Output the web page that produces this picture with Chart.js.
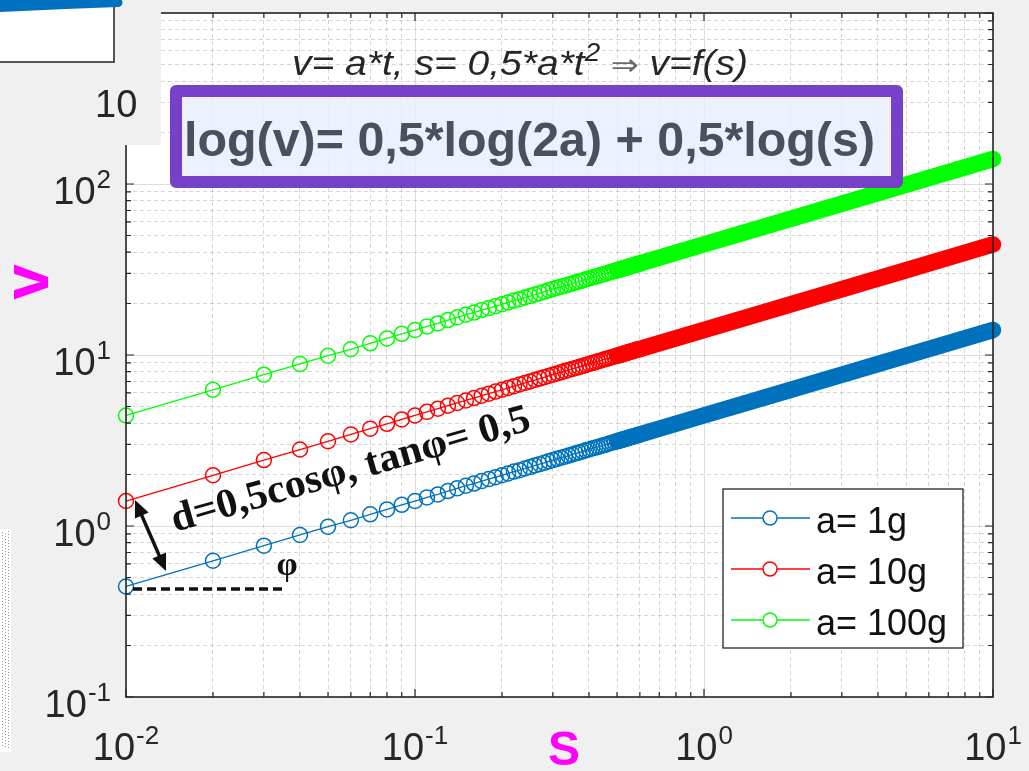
<!DOCTYPE html>
<html>
<head>
<meta charset="utf-8">
<script src="https://cdn.jsdelivr.net/npm/chart.js@4.4.1/dist/chart.umd.min.js"></script>
<style>
  html, body { margin: 0; padding: 0; background: #f0f0f0; }
  #wrap { width: 1029px; height: 771px; position: relative; }
</style>
</head>
<body>
<div id="wrap"><canvas id="chart"></canvas></div>
<script>
// v = f(s) on log-log axes, one curve per acceleration
const sValues = [0.01,0.02,0.03,0.04,0.05,0.06,0.07,0.08,0.09,0.10,
  0.11,0.12,0.13,0.14,0.15,0.16,0.17,0.18,0.19,0.20,
  0.21,0.22,0.23,0.24,0.25,0.26,0.27,0.28,0.29,0.30,
  0.31,0.32,0.33,0.34,0.35,0.36,0.37,0.38,0.39,0.40,
  0.41,0.42,0.43,0.44,0.45,0.46,0.47,0.48,0.49,0.50,
  0.51,0.52,0.53,0.54,0.55,0.56,0.57,0.58,0.59,0.60]
const v1g = [0.443,0.626,0.767,0.886,0.990,1.08,1.17,1.25,1.33,1.40,
  1.47,1.53,1.60,1.66,1.72,1.77,1.83,1.88,1.93,1.98,
  2.03,2.08,2.12,2.17,2.21,2.26,2.30,2.34,2.39,2.43,
  2.47,2.51,2.54,2.58,2.62,2.66,2.69,2.73,2.77,2.80,
  2.84,2.87,2.90,2.94,2.97,3.00,3.04,3.07,3.10,3.13,
  3.16,3.19,3.22,3.25,3.28,3.31,3.34,3.37,3.40,3.43]
const v10g = [1.40,1.98,2.43,2.80,3.13,3.43,3.71,3.96,4.20,4.43,
  4.65,4.85,5.05,5.24,5.42,5.60,5.78,5.94,6.11,6.26,
  6.42,6.57,6.72,6.86,7.00,7.14,7.28,7.41,7.54,7.67,
  7.80,7.92,8.05,8.17,8.29,8.40,8.52,8.63,8.75,8.86,
  8.97,9.08,9.19,9.29,9.40,9.50,9.60,9.70,9.80,9.90,
  10.0,10.1,10.2,10.3,10.4,10.5,10.6,10.7,10.8,10.8]
const v100g = [4.43,6.26,7.67,8.86,9.90,10.8,11.7,12.5,13.3,14.0,
  14.7,15.3,16.0,16.6,17.2,17.7,18.3,18.8,19.3,19.8,
  20.3,20.8,21.2,21.7,22.1,22.6,23.0,23.4,23.9,24.3,
  24.7,25.1,25.4,25.8,26.2,26.6,26.9,27.3,27.7,28.0,
  28.4,28.7,29.0,29.4,29.7,30.0,30.4,30.7,31.0,31.3,
  31.6,31.9,32.2,32.5,32.8,33.1,33.4,33.7,34.0,34.3]

// past s=0.5 the markers sit so close that they merge into a solid band
const sBand = [0.5, 1, 2, 5, 10]
const v1gBand = [3.13, 4.43, 6.26, 9.90, 14.0]
const v10gBand = [9.90, 14.0, 19.8, 31.3, 44.3]
const v100gBand = [31.3, 44.3, 62.6, 99.0, 140]

const seriesLabels = ['a= 1g', 'a= 10g', 'a= 100g']
const seriesColors = ['rgb(0,114,189)', 'rgb(255,0,0)', 'rgb(0,255,0)']

const xDecades = [0.01, 0.1, 1, 10]
const xExponents = ['-2', '-1', '0', '1']
const yDecades = [0.1, 1, 10, 100, 1000]
const yExponents = ['-1', '0', '1', '2']

function logTicks(decades) {
  let out = []
  for (let i = 0; i < decades.length - 1; i++) {
    for (let k = 1; k <= 9; k++) out.push(+(decades[i] * k).toPrecision(6))
  }
  out.push(decades[decades.length - 1])
  return out
}
const xTickValues = logTicks(xDecades)
const yTickValues = logTicks(yDecades)

function isDecade(v) {
  let l = Math.log10(v)
  return Math.abs(l - Math.round(l)) < 1e-6
}

function ringSet(label, color, vals) {
  return {
    label: label,
    data: sValues.map((s, i) => ({ x: s, y: vals[i] })),
    borderColor: color,
    borderWidth: 1.3,
    pointStyle: 'circle',
    pointRadius: 7.5,
    pointHoverRadius: 7.5,
    pointBorderWidth: 1.5,
    pointBorderColor: color,
    pointBackgroundColor: 'rgba(0,0,0,0)',
    tension: 0,
    clip: false
  }
}
function bandSet(color, vals) {
  return {
    label: '',
    data: sBand.map((s, i) => ({ x: s, y: vals[i] })),
    borderColor: color,
    borderWidth: 16.5,
    borderCapStyle: 'round',
    borderJoinStyle: 'round',
    pointRadius: 0,
    pointHoverRadius: 0,
    tension: 0,
    clip: false
  }
}

const SANS = '"Liberation Sans", Arial, sans-serif'
const SERIF = '"Liberation Serif", "Times New Roman", serif'
const gridColor = ctx => isDecade(ctx.tick.value) ? 'rgba(0,0,0,0.13)' : 'rgba(0,0,0,0.16)'
const gridDash = ctx => isDecade(ctx.tick.value) ? [] : [4, 3]

// "10" with a raised exponent
function powerLabel(ctx, x, base, exp, align) {
  ctx.font = '38px ' + SANS
  let w1 = ctx.measureText('10').width
  ctx.font = '26px ' + SANS
  let w2 = ctx.measureText(exp).width
  let x0 = align === 'center' ? x - (w1 + w2 + 1) / 2 : x - (w1 + w2 + 1)
  ctx.fillStyle = '#262626'
  ctx.textAlign = 'left'
  ctx.textBaseline = 'alphabetic'
  ctx.font = '38px ' + SANS
  ctx.fillText('10', x0, base)
  ctx.font = '26px ' + SANS
  ctx.fillText(exp, x0 + w1 + 1, base - 16)
}

// pieces of text in a row, squeezed to a given width
function drawRuns(ctx, runs, x, y, width) {
  let widths = runs.map(r => { ctx.font = r.font; return ctx.measureText(r.text).width })
  let total = widths.reduce((p, c) => p + c, 0)
  ctx.save()
  ctx.translate(x, y)
  ctx.scale(width / total, 1)
  ctx.textAlign = 'left'
  ctx.textBaseline = 'alphabetic'
  let cx = 0
  runs.forEach((r, i) => {
    ctx.font = r.font
    ctx.fillStyle = r.color
    ctx.fillText(r.text, cx, r.dy || 0)
    cx += widths[i]
  })
  ctx.restore()
}

function arrowHead(ctx, tx, ty, fx, fy, len, half) {
  let ang = Math.atan2(ty - fy, tx - fx)
  let c = Math.cos(ang), s = Math.sin(ang)
  ctx.beginPath()
  ctx.moveTo(tx, ty)
  ctx.lineTo(tx - len * c + half * s, ty - len * s - half * c)
  ctx.lineTo(tx - len * c - half * s, ty - len * s + half * c)
  ctx.closePath()
  ctx.fill()
}

const decor = {
  id: 'decor',
  beforeDraw(chart) {
    let { ctx, chartArea: a } = chart
    ctx.save()
    ctx.fillStyle = '#ffffff'
    ctx.fillRect(a.left, a.top, a.right - a.left, a.bottom - a.top)
    ctx.restore()
  },
  afterDraw(chart) {
    let { ctx, chartArea: a } = chart
    let xs = chart.scales.x, ys = chart.scales.y
    ctx.save()

    // inward tick marks and box
    ctx.strokeStyle = '#262626'
    ctx.lineWidth = 1.2
    ctx.beginPath()
    xs.ticks.forEach(t => {
      let px = xs.getPixelForValue(t.value)
      let len = isDecade(t.value) ? 8 : 5
      ctx.moveTo(px, a.bottom); ctx.lineTo(px, a.bottom - len)
      ctx.moveTo(px, a.top); ctx.lineTo(px, a.top + len)
    })
    ys.ticks.forEach(t => {
      let py = ys.getPixelForValue(t.value)
      let len = isDecade(t.value) ? 8 : 5
      ctx.moveTo(a.left, py); ctx.lineTo(a.left + len, py)
      ctx.moveTo(a.right, py); ctx.lineTo(a.right - len, py)
    })
    ctx.stroke()
    ctx.lineWidth = 1.6
    ctx.strokeRect(a.left, a.top, a.right - a.left, a.bottom - a.top)

    // tick labels
    xDecades.forEach((v, i) => powerLabel(ctx, xs.getPixelForValue(v), 760, xExponents[i], 'center'))
    yExponents.forEach((e, i) => powerLabel(ctx, 111, ys.getPixelForValue(yDecades[i]) + 20, e, 'right'))

    // axis names
    ctx.fillStyle = '#ff00ff'
    ctx.font = 'bold 48px ' + SANS
    ctx.textAlign = 'center'
    ctx.fillText('S', 564, 765)
    ctx.save()
    ctx.translate(48, 282)
    ctx.rotate(-Math.PI / 2)
    ctx.font = 'bold 64px ' + SANS
    ctx.fillText('v', 0, 0)
    ctx.restore()

    // legend
    ctx.fillStyle = '#ffffff'
    ctx.fillRect(723, 489, 240, 159)
    ctx.strokeStyle = '#262626'
    ctx.lineWidth = 1.3
    ctx.strokeRect(723, 489, 240, 159)
    let rows = chart.data.datasets.filter(d => d.label)
    rows.forEach((d, i) => {
      let ry = 518 + i * 51
      ctx.strokeStyle = d.borderColor
      ctx.lineWidth = 1.5
      ctx.beginPath()
      ctx.moveTo(731, ry); ctx.lineTo(810, ry)
      ctx.stroke()
      ctx.beginPath()
      ctx.arc(770, ry, 7, 0, Math.PI * 2)
      ctx.fillStyle = '#ffffff'
      ctx.fill()
      ctx.stroke()
      ctx.fillStyle = '#111111'
      ctx.font = '36px ' + SANS
      ctx.textAlign = 'left'
      ctx.fillText(d.label, 816, ry + 15)
    })

    // formula on top
    let it = 'italic 35px ' + SANS
    drawRuns(ctx, [
      { text: 'v= a*t, s= 0,5*a*t', font: it, color: '#262626' },
      { text: '2', font: 'italic 25px ' + SANS, color: '#262626', dy: -14 },
      { text: ' \u21D2 ', font: '30px "DejaVu Sans", sans-serif', color: '#6a6a6a' },
      { text: 'v=f(s)', font: it, color: '#262626' }
    ], 292, 75, 456)

    // purple box
    ctx.fillStyle = 'rgba(232,238,252,0.82)'
    ctx.fillRect(182, 97, 709, 79)
    ctx.strokeStyle = '#7640c8'
    ctx.lineWidth = 12
    ctx.lineJoin = 'round'
    ctx.strokeRect(176, 91, 721, 91)
    drawRuns(ctx, [
      { text: 'log(v)= 0,5*log(2a) + 0,5*log(s)', font: 'bold 48px ' + SANS, color: '#4a505c' }
    ], 184, 156, 691)

    // slope note
    ctx.save()
    ctx.translate(175, 532)
    ctx.rotate(-16 * Math.PI / 180)
    drawRuns(ctx, [
      { text: 'd=0,5cos\u03C6, tan\u03C6= 0,5', font: 'bold 41px ' + SERIF, color: '#111111' }
    ], 0, 0, 372)
    ctx.restore()

    // double arrow
    ctx.strokeStyle = '#111111'
    ctx.fillStyle = '#111111'
    ctx.lineWidth = 3.4
    ctx.lineJoin = 'miter'
    let p1 = [135, 500], p2 = [166, 571]
    let dx = p2[0] - p1[0], dy = p2[1] - p1[1], L = Math.hypot(dx, dy)
    ctx.beginPath()
    ctx.moveTo(p1[0] + dx / L * 12, p1[1] + dy / L * 12)
    ctx.lineTo(p2[0] - dx / L * 12, p2[1] - dy / L * 12)
    ctx.stroke()
    arrowHead(ctx, p1[0], p1[1], p2[0], p2[1], 17, 7.5)
    arrowHead(ctx, p2[0], p2[1], p1[0], p1[1], 17, 7.5)

    // dashed horizontal + angle
    ctx.setLineDash([9, 5])
    ctx.lineWidth = 3.5
    ctx.beginPath()
    ctx.moveTo(133, 589); ctx.lineTo(284, 589)
    ctx.stroke()
    ctx.setLineDash([])
    ctx.font = 'bold 34px ' + SERIF
    ctx.textAlign = 'center'
    ctx.fillText('\u03C6', 287, 575)

    // pieces of other windows over the figure
    ctx.fillStyle = '#f0f0f0'
    ctx.fillRect(0, 0, 161, 145)
    ctx.fillStyle = '#ffffff'
    ctx.fillRect(0, 0, 114, 62)
    ctx.strokeStyle = '#555555'
    ctx.lineWidth = 2
    ctx.beginPath()
    ctx.moveTo(114, 6); ctx.lineTo(114, 62); ctx.lineTo(0, 62)
    ctx.stroke()
    ctx.fillStyle = '#0070c0'
    ctx.beginPath()
    ctx.moveTo(0, -2)
    ctx.lineTo(118, -2)
    ctx.arc(118, 2.5, 4.5, -Math.PI / 2, Math.PI / 2)
    ctx.quadraticCurveTo(60, 9, 0, 12)
    ctx.closePath()
    ctx.fill()
    ctx.fillStyle = '#262626'
    ctx.font = '38px ' + SANS
    ctx.textAlign = 'left'
    ctx.fillText('10', 95, 117)

    ctx.fillStyle = '#ffffff'
    ctx.fillRect(0, 529, 11, 223)
    ctx.strokeStyle = '#9a9a9a'
    ctx.lineWidth = 1
    ctx.setLineDash([1, 2])
    ctx.beginPath()
    ctx.moveTo(2.5, 532); ctx.lineTo(2.5, 748)
    ctx.moveTo(5.5, 533); ctx.lineTo(5.5, 748)
    ctx.moveTo(8.5, 531); ctx.lineTo(8.5, 748)
    ctx.stroke()
    ctx.setLineDash([])

    ctx.restore()
  }
}

let chart = new Chart(document.getElementById('chart'), {
  type: 'line',
  data: {
    datasets: [
      ringSet(seriesLabels[0], seriesColors[0], v1g),
      ringSet(seriesLabels[1], seriesColors[1], v10g),
      ringSet(seriesLabels[2], seriesColors[2], v100g),
      bandSet(seriesColors[0], v1gBand),
      bandSet(seriesColors[1], v10gBand),
      bandSet(seriesColors[2], v100gBand)
    ]
  },
  options: {
    responsive: true,
    maintainAspectRatio: false,
    animation: false,
    events: [],
    layout: { padding: { top: 13, right: 36, left: 0, bottom: 0 } },
    plugins: { legend: { display: false }, tooltip: { enabled: false } },
    scales: {
      x: {
        type: 'logarithmic',
        position: 'bottom',
        min: xDecades[0],
        max: xDecades[xDecades.length - 1],
        afterBuildTicks: sc => { sc.ticks = xTickValues.map(v => ({ value: v })) },
        afterFit: sc => { sc.height = 74 },
        ticks: { display: false },
        grid: { drawTicks: false, color: gridColor, lineWidth: 1 },
        border: { display: false, dash: gridDash }
      },
      y: {
        type: 'logarithmic',
        position: 'left',
        min: yDecades[0],
        max: yDecades[yDecades.length - 1],
        afterBuildTicks: sc => { sc.ticks = yTickValues.map(v => ({ value: v })) },
        afterFit: sc => { sc.width = 126 },
        ticks: { display: false },
        grid: { drawTicks: false, color: gridColor, lineWidth: 1 },
        border: { display: false, dash: gridDash }
      }
    }
  },
  plugins: [decor]
})
</script>
</body>
</html>
